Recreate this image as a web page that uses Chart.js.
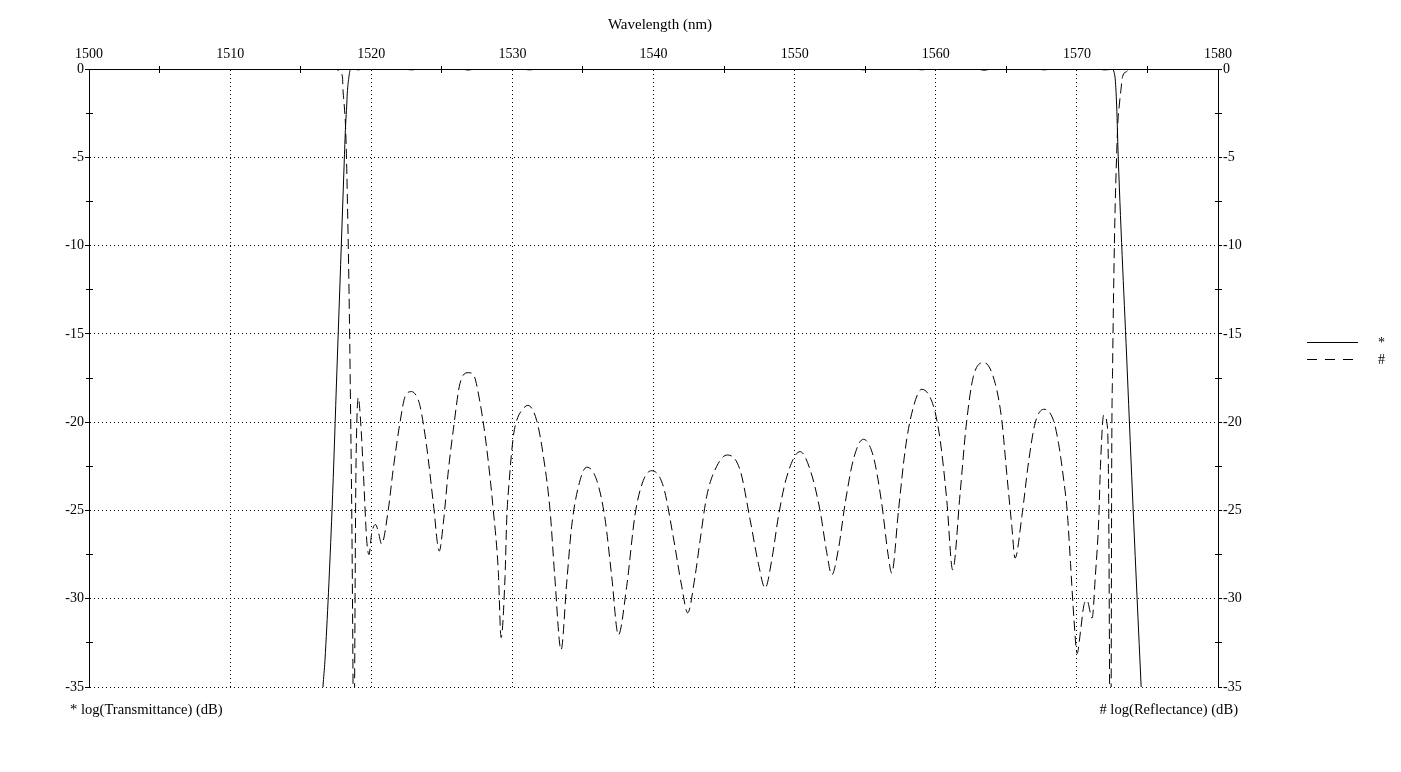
<!DOCTYPE html>
<html><head><meta charset="utf-8">
<script src="https://cdn.jsdelivr.net/npm/chart.js@4.4.1/dist/chart.umd.min.js"></script>
<style>html,body{margin:0;padding:0;background:#fff;overflow:hidden}canvas{display:block}</style>
</head><body>
<canvas id="c" width="1401" height="772"></canvas>
<script>
// ---- text ----
const xTitle = 'Wavelength (nm)';
const tAxisLabel = '* log(Transmittance) (dB)';
const rAxisLabel = '# log(Reflectance) (dB)';
const legendNames = ['*', '#'];

// ---- axis ranges ----
const xMin = 1500, xMax = 1580, xStep = 10;
const yMin = -35, yMax = 0, yStep = 5;

// ---- transmittance (solid) ----
const tWave = [1516.41, 1516.58, 1516.72, 1517.22, 1517.57, 1518.09, 1518.14, 1518.19, 1518.26, 1518.30, 1518.42, 1518.54,
  1518.75, 1519.08, 1519.5, 1522.2, 1522.86, 1523.5, 1526.3, 1526.88, 1527.4, 1530.6, 1531.2, 1531.9,
  1554.3, 1554.87, 1555.5, 1558.5, 1559.01, 1559.6, 1562.9, 1563.43, 1564.0, 1567.1, 1567.68, 1568.3,
  1571.5, 1571.9, 1572.3, 1572.467, 1572.70, 1572.82, 1572.93, 1573.565, 1573.99, 1574.555, 1574.73];
const tDb = [-38, -35, -33.5, -25, -17, -5.15, -4.0, -3.06, -2.1, -1.4, -0.43, 0,
  0, -0.05, 0, 0, -0.05, 0, 0, -0.06, 0, 0, -0.05, 0,
  0, -0.05, 0, 0, -0.05, 0, 0, -0.07, 0, 0, -0.05, 0,
  0, -0.05, -0.03, 0, -0.45, -2.1, -4.97, -17, -25, -35, -38];

// ---- reflectance (dashed) ----
const rWave = [1500, 1517.43, 1517.78, 1517.96, 1518.0, 1518.09, 1518.19, 1518.3, 1518.5, 1518.71, 1518.76, 1518.82, 1518.9, 1518.97,
  1519.08, 1519.25, 1519.44, 1519.68, 1519.84, 1520.03, 1520.3, 1520.5, 1520.73, 1521.2, 1521.55, 1522.04, 1522.4, 1522.86,
  1523.22, 1523.46, 1523.93, 1524.4, 1524.82, 1525.11, 1525.47, 1525.82, 1526.29, 1526.88, 1527.23, 1527.71, 1528.17, 1528.65,
  1529.0, 1529.2, 1529.48, 1529.6, 1529.78, 1530.07, 1530.31, 1530.7, 1531.1, 1531.72, 1532.2, 1532.67, 1533.0, 1533.45, 1533.85, 1534.2,
  1534.68, 1535.27, 1535.98, 1536.57, 1537.04, 1537.51, 1538.1, 1538.7, 1539.28, 1539.87, 1540.7, 1541.4, 1542.0, 1542.42,
  1542.94, 1543.3, 1543.77, 1544.48, 1545.23, 1546.13, 1546.84, 1547.43, 1547.91, 1548.38, 1548.85, 1549.44, 1550.39, 1551.1,
  1551.8, 1552.28, 1552.63, 1553.1, 1553.58, 1554.17, 1554.87, 1555.58, 1556.17, 1556.64, 1556.88, 1557.36, 1557.83, 1558.3,
  1559.01, 1559.84, 1560.31, 1560.78, 1561.2, 1561.73, 1562.15, 1562.67, 1563.43, 1564.21, 1564.68, 1565.03, 1565.39, 1565.62,
  1566.1, 1566.57, 1567.04, 1567.68, 1568.34, 1568.7, 1569.07, 1569.31, 1569.55, 1569.78, 1570.02, 1570.25, 1570.49, 1570.72,
  1571.08, 1571.31, 1571.55, 1571.67, 1571.9, 1572.14, 1572.25, 1572.32, 1572.38, 1572.43, 1572.47, 1572.53, 1572.68, 1572.83,
  1572.9, 1573.0, 1573.12, 1573.24, 1573.52, 1573.76, 1580];
const rDb = [0, 0, -0.15, -0.45, -1.2, -2.1, -3.5, -7, -17, -35, -45, -35, -24, -20.3,
  -18.6, -20.0, -22.8, -26.7, -27.5, -26.3, -25.8, -26.2, -26.9, -25.0, -22.7, -20.0, -18.55, -18.27,
  -18.55, -19.1, -21.4, -24.6, -27.3, -25.7, -22.7, -20.4, -17.8, -17.2, -17.3, -18.9, -21.4, -25.0,
  -28.4, -32.2, -28.75, -25.5, -23.3, -20.8, -19.9, -19.3, -19.05, -19.9, -21.95, -25.0, -28.7, -32.9, -29.1, -25.9,
  -23.65, -22.55, -23.3, -25.5, -28.75, -32.05, -29.3, -25.2, -23.3, -22.75, -23.65, -26.5, -29.3, -30.8,
  -28.75, -26.7, -24.2, -22.5, -21.86, -22.7, -25.5, -28.0, -29.4, -27.8, -25.35, -23.1, -21.67, -22.7,
  -25.0, -27.4, -28.65, -27.2, -24.6, -22.1, -20.97, -21.95, -24.6, -27.6, -28.55, -25.0, -21.6, -19.5,
  -18.14, -19.1, -21.0, -24.4, -28.37, -24.0, -20.25, -17.4, -16.63, -17.8, -19.9, -22.9, -25.9, -27.7,
  -25.35, -22.3, -20.06, -19.27, -19.9, -21.2, -23.3, -25.0, -28.0, -31.0, -33.1, -31.9, -30.4, -30.1,
  -31.1, -28.7, -25.5, -22.5, -19.6, -20.1, -24, -35, -45, -35, -22, -17, -9, -4.6,
  -3.1, -2.1, -1.2, -0.43, -0.15, 0, 0];

const FONT = "'Liberation Serif','Times New Roman',serif";
const toPts = (xs, ys) => xs.map((x, i) => ({x: x, y: ys[i]}));

const decor = {
  id: 'decor',
  afterDraw(chart) {
    const {ctx, chartArea: a, scales} = chart;
    const x = scales.x, y = scales.y;
    const al = p => Math.round(p - 0.5) + 0.5;
    ctx.save();
    ctx.strokeStyle = '#000';
    ctx.lineWidth = 1;
    ctx.setLineDash([]);
    ctx.beginPath();
    for (let v = xMin + xStep / 2; v < xMax; v += xStep) {
      const px = al(x.getPixelForValue(v));
      ctx.moveTo(px, a.top - 3); ctx.lineTo(px, a.top + 4);
    }
    for (let v = yMax - yStep / 2; v > yMin; v -= yStep) {
      const py = al(y.getPixelForValue(v));
      ctx.moveTo(a.left - 3, py); ctx.lineTo(a.left + 4, py);
      ctx.moveTo(a.right - 3, py); ctx.lineTo(a.right + 4, py);
    }
    ctx.stroke();

    ctx.fillStyle = '#000';
    ctx.textBaseline = 'middle';
    ctx.font = '15px ' + FONT;
    ctx.textAlign = 'center';
    ctx.fillText(xTitle, 660, 25);
    ctx.font = '14.6px ' + FONT;
    ctx.textAlign = 'left';
    ctx.fillText(tAxisLabel, 70, 710);
    ctx.textAlign = 'right';
    ctx.fillText(rAxisLabel, 1238, 710);

    // legend
    const ds = chart.data.datasets;
    const rows = [342.5, 359.5];
    ds.forEach((d, i) => {
      ctx.beginPath();
      ctx.setLineDash(i === 0 ? [] : [10, 8]);
      ctx.moveTo(1307, rows[i]); ctx.lineTo(1358, rows[i]);
      ctx.stroke();
    });
    ctx.setLineDash([]);
    ctx.font = '14px ' + FONT;
    ctx.textAlign = 'left';
    ctx.textBaseline = 'alphabetic';
    ctx.fillText(legendNames[0], 1378, 347);
    ctx.fillText(legendNames[1], 1378, 364);
    ctx.restore();
  }
};

const tickFont = {family: FONT, size: 14};
new Chart(document.getElementById('c').getContext('2d'), {
  type: 'line',
  data: {
    datasets: [
      {label: legendNames[0], data: toPts(tWave, tDb), yAxisID: 'y', borderColor: '#000', borderWidth: 1,
        pointRadius: 0, fill: false, cubicInterpolationMode: 'monotone'},
      {label: legendNames[1], data: toPts(rWave, rDb), yAxisID: 'y2', borderColor: '#000', borderWidth: 1,
        borderDash: [10, 5], pointRadius: 0, fill: false, cubicInterpolationMode: 'monotone'}
    ]
  },
  options: {
    responsive: false,
    animation: false,
    events: [],
    layout: {padding: {left: 49, right: 143, top: 25, bottom: 85}},
    plugins: {legend: {display: false}, tooltip: {enabled: false}},
    scales: {
      x: {
        type: 'linear', position: 'top', min: xMin, max: xMax,
        ticks: {stepSize: xStep, font: tickFont, color: '#000', padding: 2, maxRotation: 0, autoSkip: false,
          callback: v => String(v)},
        grid: {color: '#000', lineWidth: 1, tickLength: 4, tickColor: 'rgba(0,0,0,0)'},
        border: {display: true, color: '#000', width: 1, dash: [1, 3]},
        afterFit(s) { s.height = 44; }
      },
      y: {
        position: 'left', min: yMin, max: yMax,
        ticks: {stepSize: yStep, font: tickFont, color: '#000', padding: 1, callback: v => String(v)},
        grid: {color: '#000', lineWidth: 1, tickLength: 4, tickColor: '#000'},
        border: {display: true, color: '#000', width: 1, dash: [1, 3]},
        afterFit(s) { s.width = 40; }
      },
      y2: {
        position: 'right', min: yMin, max: yMax,
        ticks: {stepSize: yStep, font: tickFont, color: '#000', padding: 1, callback: v => String(v)},
        grid: {drawOnChartArea: false, tickLength: 4, tickColor: '#000'},
        border: {display: true, color: '#000', width: 1},
        afterFit(s) { s.width = 40; }
      }
    }
  },
  plugins: [decor]
});
</script>
</body></html>
